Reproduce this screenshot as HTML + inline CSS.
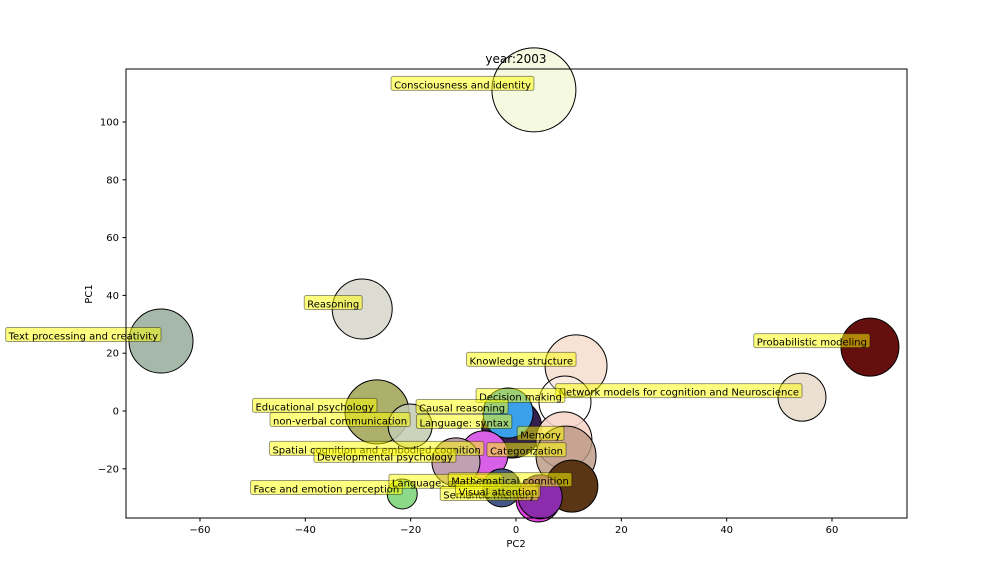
<!DOCTYPE html>
<html><head><meta charset="utf-8"><style>
body{margin:0;background:#fff}
svg{display:block;font-family:"DejaVu Sans","Liberation Sans",sans-serif}
</style></head><body>
<svg id="chart" width="1008" height="576" viewBox="0 0 1008 576" xmlns="http://www.w3.org/2000/svg">
<rect width="1008" height="576" fill="#fff"/>
<g id="bubbles"></g>
<g id="labels"></g>
<rect x="126" y="69" width="781" height="449" fill="none" stroke="#000" stroke-width="1"/>
<g id="axes"></g>
<text x="516" y="63" font-size="12" text-anchor="middle">year:2003</text>
<text x="516" y="547" font-size="10" text-anchor="middle">PC2</text>
<text x="92" y="294" font-size="10" text-anchor="middle" transform="rotate(-90 92 294)">PC1</text>
</svg>
<script>
const topics = ["Consciousness and identity","Reasoning","Text processing and creativity","Probabilistic modeling","Knowledge structure","Network models for cognition and Neuroscience","Decision making","Educational psychology","non-verbal communication","Language: syntax","Causal reasoning","Memory","Categorization","Spatial cognition and embodied cognition","Developmental psychology","Face and emotion perception","Language: semantics","Mathematical cognition","Semantic memory","Visual attention"];
const pc2 = [3.4,-29.2,-67.4,67.2,11.4,54.3,9.3,-26.4,-20.1,-0.8,-1.5,9.1,9.5,-6.1,-11.4,-21.6,-2.7,10.6,4.2,4.6];
const pc1 = [111.1,35.3,24.2,22.1,15.6,4.8,3.1,-0.3,-5.2,-5.9,-0.7,-10,-15.6,-15.2,-17.6,-28.7,-26.6,-26.0,-30.8,-29.7];
const sizes = [42,30,32,29,31,24,26,32,22,30,25,28,30,24,24,15,19,26,22,22];
const colors = ["#f5f9e0","#dcdcd2","#a5b8aa","#650f0f","#f7e2d5","#ebdfd2","rgba(255,255,255,0.3)","#acb06a","rgba(195,203,176,0.85)","#36204f","#3aa0ea","rgba(246,210,198,0.85)","rgba(185,150,130,0.8)","#d860e6","#c0a0b2","#8dd98a","#465888","#5a3516","#e040e0","#8a2cac"];
const xTicks = [-60,-40,-20,0,20,40,60];
const yTicks = [-20,0,20,40,60,80,100];

const NS="http://www.w3.org/2000/svg";
function xs(v){return 516+v*5.267;}
function ys(v){return 411-v*2.89;}
function mk(t,a){const e=document.createElementNS(NS,t);for(const k in a)e.setAttribute(k,a[k]);return e;}
const axes=document.getElementById('axes');
xTicks.forEach(v=>{
  const x=xs(v);
  const l=mk('line',{x1:x,x2:x,y1:518,y2:521.5,stroke:'#000'});
  
  
  axes.appendChild(l);
  const t=mk('text',{x:x,y:533,'font-size':10,'text-anchor':'middle'});
  
  
  t.textContent=(v<0?'\u2212'+(-v):v);axes.appendChild(t);
});
yTicks.forEach(v=>{
  const y=ys(v);
  const l=mk('line',{x1:122.5,x2:126,y1:y,y2:y,stroke:'#000'});
  
  
  axes.appendChild(l);
  const t=mk('text',{x:119,y:y+3.5,'font-size':10,'text-anchor':'end'});
  
  
  t.textContent=(v<0?'\u2212'+(-v):v);axes.appendChild(t);
});
const bg=document.getElementById('bubbles'), lg=document.getElementById('labels');
topics.forEach((name,i)=>{
  const cx=xs(pc2[i]), cy=ys(pc1[i]);
  const c=mk('circle',{cx:cx,cy:cy,r:sizes[i],fill:colors[i],stroke:'#000','stroke-width':1});
  
  
  bg.appendChild(c);
});
topics.forEach((name,i)=>{
  const cx=xs(pc2[i]), cy=ys(pc1[i]);
  const g=mk('g',{});
  
  
  const t=mk('text',{x:cx-3,y:cy-1.5,'font-size':10,'text-anchor':'end',fill:'#000'});
  t.textContent=name;
  g.appendChild(t);lg.appendChild(g);
  const w=t.getComputedTextLength();
  const r=mk('rect',{x:cx-w-6,y:cy-13.5,width:w+6,height:14,rx:2,fill:'rgba(255,255,0,0.5)',stroke:'rgba(0,0,0,0.4)','stroke-width':1});
  g.insertBefore(r,t);
});
</script>
</body></html>
